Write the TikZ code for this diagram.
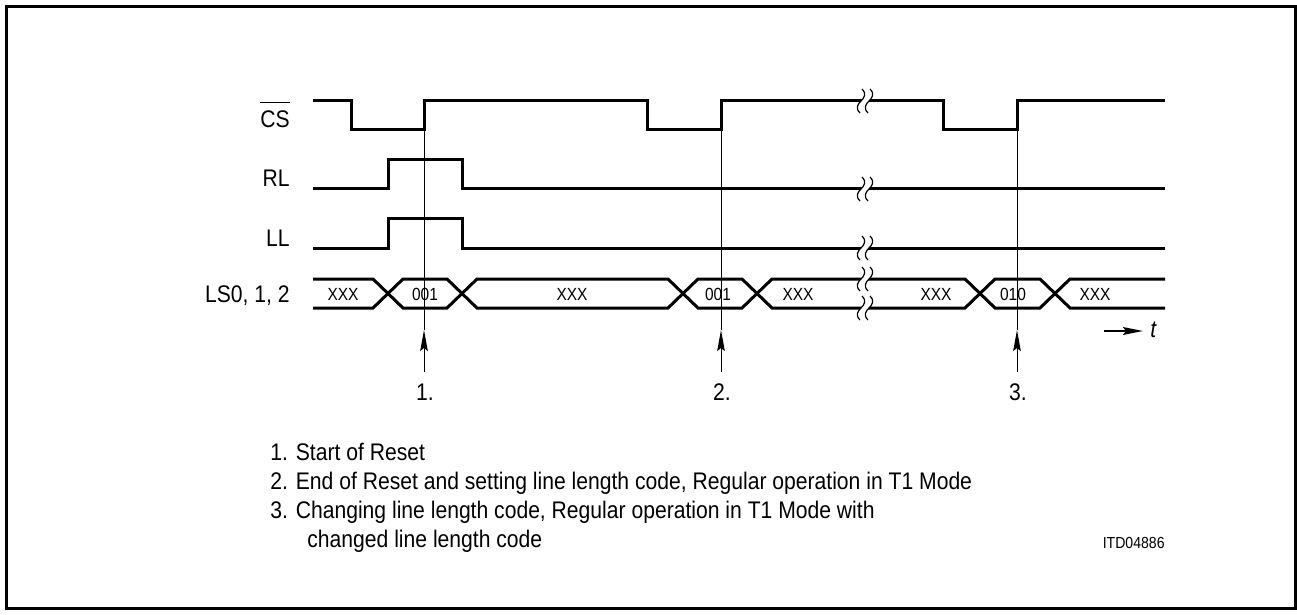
\documentclass[tikz,border=0pt]{standalone}
\usepackage{fontspec}
\setmainfont{Liberation Sans}[FakeStretch=0.88]
\usetikzlibrary{arrows.meta}
\begin{document}
\begin{tikzpicture}[x=0.5pt,y=-0.5pt,
  sig/.style={line width=1.5pt, line join=miter},
  thinl/.style={line width=0.5pt},
  arr/.style={line width=0.5pt, -{Stealth[length=10.5pt,width=3.8pt,inset=1.5pt]}},
  tarr/.style={line width=0.7pt, -{Stealth[length=10pt,width=3.9pt,inset=1.5pt]}},
  lbl/.style={inner sep=0pt, font=\fontsize{12}{14.5}\selectfont},
  bus/.style={inner sep=0pt, font=\fontsize{8.8}{10}\selectfont},
  small/.style={inner sep=0pt, font=\fontsize{8}{10}\selectfont},
  brk/.pic={
    \fill[white] (-1,-3.2) -- (7,-3.2) -- (1,3.2) -- (-7,3.2) -- cycle;
    \foreach \o in {-4,4}{
      \draw[line width=0.6pt] (\o+1,-12) .. controls (\o+6,-7) and (\o+3,-3) .. (\o,0)
        .. controls (\o-3,3) and (\o-6,7) .. (\o-1,12);
    }
  }
]
\useasboundingbox (0,0) rectangle (1297,615);
\draw[line width=1.4pt] (6.5,6.5) rectangle (1295.5,608.5);

% CS
\draw[sig] (313,101) -- (351,101) -- (351,130) -- (424,130) -- (424,101) -- (647,101)
  -- (647,130) -- (721,130) -- (721,101) -- (943,101) -- (943,130) -- (1017,130)
  -- (1017,101) -- (1165,101);
% RL
\draw[sig] (313,189) -- (388,189) -- (388,160) -- (462,160) -- (462,189) -- (1165,189);
% LL
\draw[sig] (313,248) -- (388,248) -- (388,219) -- (462,219) -- (462,248) -- (1165,248);
% LS bus
\draw[sig] (313,279) -- (373,279) -- (403,308) -- (447,308) -- (477,279) -- (668,279)
  -- (698,308) -- (742,308) -- (772,279) -- (965,279) -- (995,308) -- (1040,308)
  -- (1070,279) -- (1165,279);
\draw[sig] (313,308) -- (373,308) -- (403,279) -- (447,279) -- (477,308) -- (668,308)
  -- (698,279) -- (742,279) -- (772,308) -- (965,308) -- (995,279) -- (1040,279)
  -- (1070,308) -- (1165,308);

% breaks
\pic at (865,101) {brk};
\pic at (865,189) {brk};
\pic at (865,248) {brk};
\pic at (865,279) {brk};
\pic at (865,308) {brk};

% labels
\node[lbl, anchor=base east] (lcs) at (290,128) {CS};
\draw[line width=0.5pt] ([yshift=4pt]lcs.north west) -- ([yshift=4pt]lcs.north east);
\node[lbl, anchor=base east] (lrl) at (290,186) {RL};
\node[lbl, anchor=base east] (lll) at (290,247) {LL};
\node[lbl, anchor=base east] (lls) at (290,302) {LS0, 1, 2};

% bus values
\node[bus, anchor=base] (b1) at (343,300) {XXX};
\node[bus, anchor=base] (b2) at (425,300) {001};
\node[bus, anchor=base] (b3) at (572,300) {XXX};
\node[bus, anchor=base] (b4) at (718,300) {001};
\node[bus, anchor=base] (b5) at (798,300) {XXX};
\node[bus, anchor=base] (b6) at (936,300) {XXX};
\node[bus, anchor=base] (b7) at (1013,300) {010};
\node[bus, anchor=base] (b8) at (1095,300) {XXX};

% marker lines and arrows
\foreach \x/\n in {424/1,721/2,1017/3}{
  \coordinate (m\n top) at (\x,130);
  \coordinate (m\n tip) at (\x,330);
  \coordinate (m\n bot) at (\x,372);
  \draw[thinl] (m\n top) -- (m\n tip);
  \draw[arr] (m\n bot) -- (m\n tip);
}
\node[lbl, anchor=base] (n1) at (425,400) {1.};
\node[lbl, anchor=base] (n2) at (722,400) {2.};
\node[lbl, anchor=base] (n3) at (1018,400) {3.};

% time arrow
\coordinate (ta) at (1104,331);
\coordinate (tb) at (1143,331);
\draw[tarr] (ta) -- (tb);
\node[lbl, anchor=base west] (tt) at (1150,337) {\textit{t}};

% notes
\node[lbl, anchor=base west] (t1) at (270,460) {1. Start of Reset};
\node[lbl, anchor=base west] (t2) at (270,489) {2. End of Reset and setting line length code, Regular operation in T1 Mode};
\node[lbl, anchor=base west] (t3) at (270,518) {3. Changing line length code, Regular operation in T1 Mode with};
\node[lbl, anchor=base west] (t4) at (307,547) {changed line length code};
\node[small, anchor=base east] (itd) at (1165,548) {ITD04886};
\end{tikzpicture}
\end{document}
